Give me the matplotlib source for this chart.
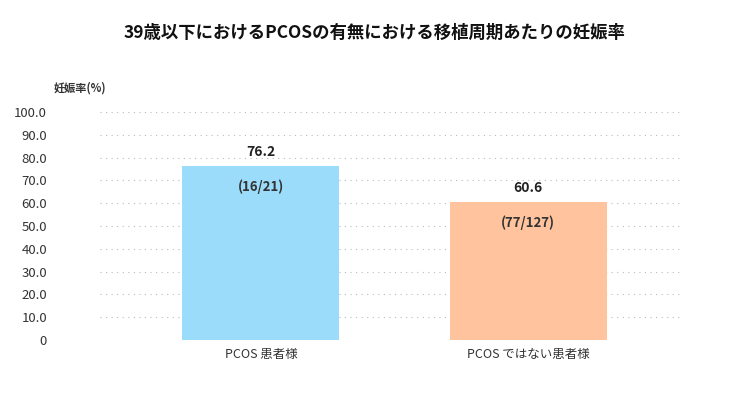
import matplotlib
matplotlib.use("Agg")
import matplotlib.pyplot as plt

plt.rcParams['font.family'] = ['Noto Sans CJK JP', 'DejaVu Sans']

categories = ["PCOS 患者様", "PCOS ではない患者様"]
values = [76.2, 60.6]
counts = ["(16/21)", "(77/127)"]
colors = ["#9ADCFA", "#FFC49E"]

fig = plt.figure(figsize=(7.5, 4), dpi=100)
ax = fig.add_axes([0.133, 0.15, 0.774, 0.57])
x = list(range(len(categories)))
ax.bar(x, values, width=0.588, color=colors, zorder=2)
for xi, v, c in zip(x, values, counts):
    ax.text(xi, v + 3, f"{v:.1f}", ha="center", va="bottom", fontsize=10, fontweight="bold", color="#222")
    ax.text(xi, v - 9, c, ha="center", va="center", fontsize=9.5, fontweight="bold", color="#333")
ax.set_xlim(-0.603, 1.569)
ax.set_ylim(0, 100)
ax.set_yticks(range(0, 101, 10))
ax.set_yticklabels(["0"] + [f"{t:.1f}" for t in range(10, 101, 10)], fontsize=9.5, color="#333")
ax.set_xticks(x)
ax.set_xticklabels(categories, fontsize=9, color="#333")
ax.yaxis.grid(True, linestyle=(0, (1, 4)), color="#bbb", linewidth=0.8, zorder=0)
for s in ax.spines.values():
    s.set_visible(False)
ax.tick_params(length=0, pad=6)
ax.tick_params(axis='y', pad=38)
for lab in ax.get_yticklabels():
    lab.set_horizontalalignment("right")
fig.text(0.071, 0.77, "妊娠率(%)", fontsize=8, color="#333", fontweight="bold")
fig.text(0.5, 0.905, "39歳以下におけるPCOSの有無における移植周期あたりの妊娠率", ha="center", fontsize=12.5, fontweight="bold", color="#111")
fig.savefig("out.png", dpi=100, facecolor="white")
